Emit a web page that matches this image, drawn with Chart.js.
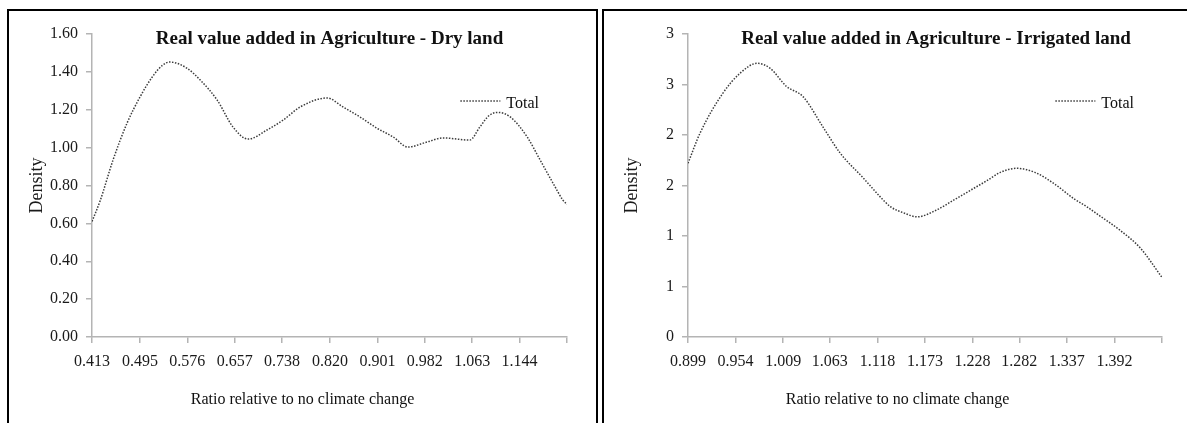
<!DOCTYPE html>
<html>
<head>
<meta charset="utf-8">
<script src="https://cdn.jsdelivr.net/npm/chart.js@4.4.1/dist/chart.umd.min.js"></script>
<style>
    html, body { margin: 0; padding: 0; background: #fff; overflow: hidden; width: 1187px; height: 423px; }
    .painel { position: absolute; top: 9px; width: 587px; height: 412px; border: 2px solid #000; border-bottom: none; }
    .painel canvas { display: block; }
</style>
</head>
<body>
<div class="painel" style="left:7px"><canvas id="graficoSequeiroCanvas" width="587" height="412"></canvas></div>
<div class="painel" style="left:602px"><canvas id="graficoIrrigadoCanvas" width="587" height="412"></canvas></div>
<script>
// Dry land
const sequeiroX = [0.413, 0.427, 0.449, 0.473, 0.495, 0.516, 0.534, 0.546, 0.575, 0.598, 0.627, 0.654, 0.680, 0.712, 0.740, 0.769, 0.815, 0.842, 0.871, 0.900, 0.928, 0.953, 0.986, 1.013, 1.059, 1.076, 1.092, 1.107, 1.128, 1.157, 1.179, 1.201, 1.218, 1.225]
const sequeiroY = [0.61, 0.72, 0.935, 1.13, 1.267, 1.373, 1.436, 1.452, 1.42, 1.357, 1.251, 1.109, 1.045, 1.093, 1.146, 1.215, 1.262, 1.215, 1.162, 1.103, 1.056, 1.003, 1.03, 1.051, 1.040, 1.109, 1.17, 1.186, 1.162, 1.056, 0.935, 0.813, 0.723, 0.70]
const sequeiroTicksX = ['0.413', '0.495', '0.576', '0.657', '0.738', '0.820', '0.901', '0.982', '1.063', '1.144']
const sequeiroMaxX = 1.225

// Irrigated land
const irrigadoX = [0.899, 0.913, 0.939, 0.959, 0.979, 0.994, 1.013, 1.032, 1.055, 1.075, 1.101, 1.121, 1.133, 1.148, 1.164, 1.187, 1.207, 1.225, 1.245, 1.260, 1.279, 1.300, 1.322, 1.345, 1.360, 1.375, 1.398, 1.422, 1.447]
const irrigadoY = [1.72, 2.02, 2.41, 2.61, 2.71, 2.66, 2.48, 2.38, 2.08, 1.82, 1.58, 1.39, 1.29, 1.23, 1.19, 1.26, 1.36, 1.45, 1.55, 1.63, 1.67, 1.63, 1.52, 1.37, 1.29, 1.20, 1.06, 0.88, 0.59]
const irrigadoTicksX = ['0.899', '0.954', '1.009', '1.063', '1.118', '1.173', '1.228', '1.282', '1.337', '1.392']
const irrigadoMaxX = 1.447

const serifa = '"Liberation Serif", "Times New Roman", serif'
const corEixo = '#b4b4b4'

// title, x caption and the "Total" legend drawn inside the plot
const textosPainel = {
    id: 'textosPainel',
    afterDraw(chart, args, opts) {
        const { ctx, chartArea } = chart
        ctx.save()
        ctx.fillStyle = '#111'
        ctx.textBaseline = 'alphabetic'
        ctx.textAlign = 'center'
        ctx.font = `bold 19px ${serifa}`
        ctx.fillText(opts.titulo, (chartArea.left + chartArea.right) / 2 + opts.deslocTitulo, chartArea.top + 10)
        ctx.font = `16px ${serifa}`
        ctx.fillText(opts.legendaX, chart.width / 2, chart.height - 19)

        let ds = chart.data.datasets[0]
        let larguraTexto = ctx.measureText(ds.label).width
        let xTexto = chartArea.right - 28 - larguraTexto
        let y = chartArea.top + 67
        ctx.strokeStyle = ds.borderColor
        ctx.lineWidth = ds.borderWidth
        ctx.setLineDash(ds.borderDash)
        ctx.beginPath()
        ctx.moveTo(xTexto - 46, y)
        ctx.lineTo(xTexto - 6, y)
        ctx.stroke()
        ctx.textAlign = 'left'
        ctx.fillText(ds.label, xTexto, y + 7)
        ctx.restore()
    }
}

function criarGrafico(idCanvas, xs, ys, ticksX, maxX, yMax, yStep, yFormato, larguraY, titulo, deslocTitulo) {
    return new Chart(document.getElementById(idCanvas), {
        type: 'line',
        data: {
            datasets: [{
                label: 'Total',
                data: xs.map((x, i) => ({ x: x, y: ys[i] })),
                borderColor: '#3c3c3c',
                borderWidth: 1.5,
                borderDash: [1.5, 1.5],
                pointRadius: 0,
                cubicInterpolationMode: 'monotone',
                fill: false
            }]
        },
        options: {
            responsive: false,
            animation: false,
            layout: {
                padding: { left: 0, right: 587 - 558, top: 23, bottom: 0 }
            },
            plugins: {
                legend: { display: false },
                tooltip: { enabled: false },
                textosPainel: {
                    titulo: titulo,
                    deslocTitulo: deslocTitulo,
                    legendaX: 'Ratio relative to no climate change'
                }
            },
            scales: {
                x: {
                    type: 'linear',
                    min: parseFloat(ticksX[0]),
                    max: maxX,
                    afterBuildTicks: function (axis) {
                        axis.ticks = ticksX.map(Number).concat([maxX]).map(v => ({ value: v }))
                    },
                    afterFit: function (axis) {
                        axis.height = 412 - 326
                    },
                    ticks: {
                        autoSkip: false,
                        maxRotation: 0,
                        padding: 9,
                        color: '#1a1a1a',
                        font: { family: serifa, size: 16 },
                        callback: function (value, index) {
                            return index < ticksX.length ? ticksX[index] : ''
                        }
                    },
                    grid: {
                        drawOnChartArea: false,
                        drawTicks: true,
                        tickLength: 6,
                        color: corEixo,
                        lineWidth: 1.5
                    },
                    border: { color: corEixo, width: 1.5 }
                },
                y: {
                    type: 'linear',
                    min: 0,
                    max: yMax,
                    afterFit: function (axis) {
                        axis.width = larguraY
                    },
                    ticks: {
                        stepSize: yStep,
                        padding: 8,
                        color: '#1a1a1a',
                        font: { family: serifa, size: 16 },
                        callback: yFormato
                    },
                    grid: {
                        drawOnChartArea: false,
                        drawTicks: true,
                        tickLength: 6,
                        color: corEixo,
                        lineWidth: 1.5
                    },
                    border: { color: corEixo, width: 1.5 },
                    title: {
                        display: true,
                        text: 'Density',
                        color: '#1a1a1a',
                        font: { family: serifa, size: 18 },
                        padding: { top: 17, bottom: 0 }
                    }
                }
            }
        },
        plugins: [textosPainel]
    })
}

criarGrafico('graficoSequeiroCanvas', sequeiroX, sequeiroY, sequeiroTicksX, sequeiroMaxX, 1.6, 0.2,
    v => v.toFixed(2), 83, 'Real value added in Agriculture - Dry land', 0)

criarGrafico('graficoIrrigadoCanvas', irrigadoX, irrigadoY, irrigadoTicksX, irrigadoMaxX, 3, 0.5,
    v => Math.round(v).toString(), 84, 'Real value added in Agriculture - Irrigated land', 11)
</script>
</body>
</html>
